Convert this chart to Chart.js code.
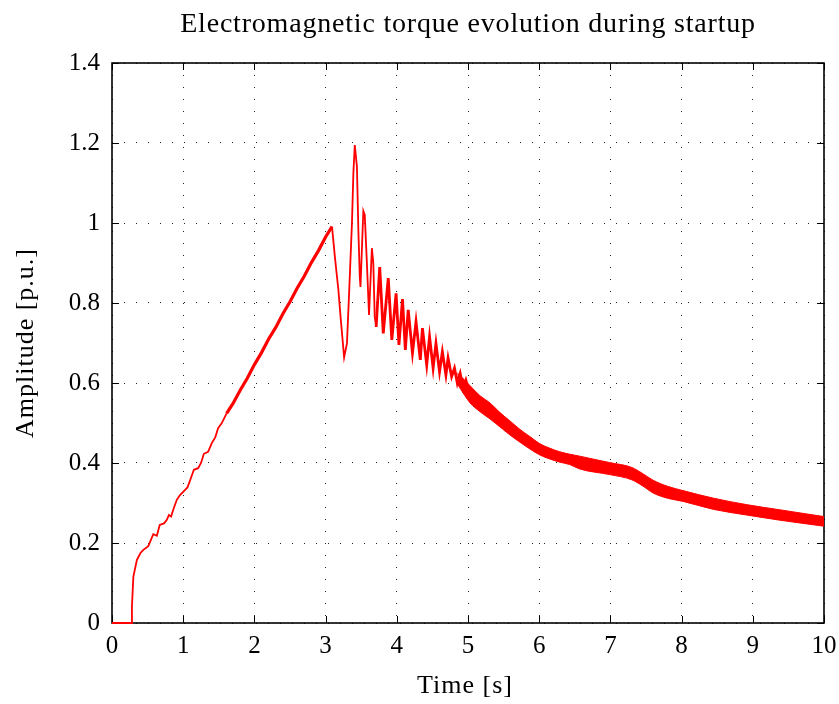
<!DOCTYPE html>
<html>
<head>
<meta charset="utf-8">
<script src="https://cdn.jsdelivr.net/npm/chart.js@4"></script>
<style>
  html, body { margin: 0; padding: 0; background: #fff; }
  #wrap { width: 839px; height: 704px; }
</style>
</head>
<body>
<div id="wrap"><canvas id="chart"></canvas></div>
<script>
// ---------- Data ----------
// thin trace: startup, ramp and the big swings
const tMain = [0, 0.27, 0.28, 0.30, 0.35, 0.40, 0.44, 0.51, 0.58, 0.63, 0.67, 0.73, 0.77, 0.80, 0.83, 0.86,
  0.91, 0.955, 1.00, 1.06, 1.10, 1.15, 1.21, 1.25, 1.29, 1.35, 1.40, 1.45, 1.49, 1.54, 1.61,
  1.70, 1.80, 1.90, 2.00, 2.10, 2.20, 2.30, 2.40, 2.50, 2.60, 2.70, 2.80, 2.90, 3.00, 3.09,
  3.13, 3.18, 3.21, 3.26, 3.30, 3.33, 3.37, 3.39, 3.41, 3.44, 3.46, 3.48, 3.49, 3.53, 3.55,
  3.58, 3.61, 3.65, 3.67, 3.69, 3.71, 3.76, 3.81, 3.88, 3.93, 3.99, 4.03, 4.08, 4.12, 4.16,
  4.22, 4.27, 4.33, 4.36, 4.42, 4.46, 4.51, 4.55, 4.60, 4.64, 4.69, 4.72, 4.77, 4.81, 4.85,
  4.89, 4.93, 4.97, 5.02];
const yMain = [0, 0, 0.04, 0.116, 0.158, 0.175, 0.183, 0.192, 0.222, 0.218, 0.245, 0.249, 0.258, 0.270, 0.266, 0.283,
  0.308, 0.320, 0.328, 0.339, 0.358, 0.383, 0.387, 0.400, 0.423, 0.428, 0.449, 0.464, 0.487, 0.499, 0.524,
  0.549, 0.582, 0.612, 0.646, 0.676, 0.710, 0.739, 0.773, 0.803, 0.837, 0.867, 0.901, 0.931, 0.965, 0.991,
  0.916, 0.832, 0.766, 0.664, 0.699, 0.824, 0.999, 1.124, 1.195, 1.141, 0.983, 0.866, 0.840, 1.030, 1.020,
  0.900, 0.770, 0.937, 0.900, 0.766, 0.740, 0.890, 0.724, 0.862, 0.708, 0.824, 0.695, 0.810, 0.683, 0.783,
  0.675, 0.753, 0.658, 0.737, 0.645, 0.716, 0.637, 0.699, 0.628, 0.678, 0.620, 0.662, 0.616, 0.637, 0.600,
  0.624, 0.587, 0.607, 0.574];

// thick part (fast ripple): upper and lower edge of the band
const tBand = [4.85, 4.95, 5.03, 5.17, 5.31, 5.45, 5.59, 5.73, 5.87, 6.01, 6.15, 6.29, 6.43, 6.57, 6.99,
  7.30, 7.45, 7.60, 7.80, 8.02, 8.45, 8.91, 9.38, 10.0];
const bandUpper = [0.625, 0.608, 0.593, 0.568, 0.550, 0.526, 0.505, 0.484, 0.466, 0.448, 0.437, 0.428, 0.422, 0.417, 0.401,
  0.389, 0.374, 0.357, 0.342, 0.331, 0.312, 0.296, 0.283, 0.266];
const bandLower = [0.598, 0.570, 0.550, 0.528, 0.510, 0.490, 0.470, 0.452, 0.435, 0.420, 0.410, 0.402, 0.396, 0.385, 0.371,
  0.358, 0.343, 0.325, 0.312, 0.304, 0.284, 0.270, 0.257, 0.242];

const xTicks = [0, 1, 2, 3, 4, 5, 6, 7, 8, 9, 10];
const yTicks = [0, 0.2, 0.4, 0.6, 0.8, 1, 1.2, 1.4];

const titleText = 'Electromagnetic torque evolution during startup';
const xLabel = 'Time [s]';
const yLabel = 'Amplitude [p.u.]';

const serif = '"Liberation Serif", "DejaVu Serif", serif';
const red = '#ff0000';

const pts = (xs, ys) => xs.map((x, i) => ({ x: x, y: ys[i] }));

// box round the axes, with ticks pointing inward (matlab style)
const frame = {
  id: 'frame',
  beforeDatasetsDraw(chart) {
    const { ctx, chartArea: a, scales: { x, y } } = chart;
    ctx.save();
    ctx.strokeStyle = '#000';
    ctx.lineWidth = 1;
    ctx.beginPath();
    xTicks.forEach(v => {
      const px = Math.round(x.getPixelForValue(v)) + 0.5;
      ctx.moveTo(px, a.bottom); ctx.lineTo(px, a.bottom - 7);
      ctx.moveTo(px, a.top); ctx.lineTo(px, a.top + 7);
    });
    yTicks.forEach(v => {
      const py = Math.round(y.getPixelForValue(v)) + 0.5;
      ctx.moveTo(a.left, py); ctx.lineTo(a.left + 7, py);
      ctx.moveTo(a.right, py); ctx.lineTo(a.right - 7, py);
    });
    ctx.stroke();
    ctx.lineWidth = 1.6;
    ctx.strokeRect(a.left, a.top, a.right - a.left, a.bottom - a.top);
    ctx.restore();
  }
};

// title and axis labels, spaced a bit wider like the latex font
const labels = {
  id: 'labels',
  afterDraw(chart) {
    const { ctx, chartArea: a } = chart;
    const cx = (a.left + a.right) / 2;
    const cy = (a.top + a.bottom) / 2;
    ctx.save();
    ctx.fillStyle = '#000';
    ctx.textAlign = 'center';
    ctx.textBaseline = 'alphabetic';
    ctx.letterSpacing = '0.8px';
    ctx.font = '28px ' + serif;
    ctx.fillText(titleText, cx, 32);
    ctx.letterSpacing = '1px';
    ctx.font = '26px ' + serif;
    ctx.fillText(xLabel, cx - 3, 693);
    ctx.translate(33, cy);
    ctx.rotate(-Math.PI / 2);
    ctx.fillText(yLabel, 0, 0);
    ctx.restore();
  }
};

const thick = c => {
  const t = c.p0.parsed.x;
  if (t >= 1.6 && t < 3.09) return 3.2;
  if (t >= 3.7) return 2.8;
  return 1.8;
};

const ctx = document.getElementById('chart').getContext('2d');

new Chart(ctx, {
  type: 'line',
  data: {
    datasets: [
      {
        label: 'Torque',
        data: pts(tMain, yMain),
        borderColor: red,
        borderWidth: 1.8,
        pointRadius: 0,
        tension: 0,
        clip: false,
        segment: { borderWidth: thick }
      },
      {
        label: 'ripple upper',
        data: pts(tBand, bandUpper),
        borderColor: red,
        backgroundColor: red,
        borderWidth: 1,
        pointRadius: 0,
        cubicInterpolationMode: 'monotone',
        fill: '+1'
      },
      {
        label: 'ripple lower',
        data: pts(tBand, bandLower),
        borderColor: red,
        borderWidth: 1,
        pointRadius: 0,
        cubicInterpolationMode: 'monotone',
        fill: false
      }
    ]
  },
  options: {
    responsive: true,
    maintainAspectRatio: false,
    animation: false,
    layout: { padding: { left: 0, right: 15, top: 63, bottom: 0 } },
    plugins: {
      legend: { display: false },
      tooltip: { enabled: false },
      title: { display: false }
    },
    scales: {
      x: {
        type: 'linear',
        min: 0,
        max: 10,
        afterFit: s => { s.height = 81; s.paddingLeft = 0; s.paddingRight = 0; },
        afterBuildTicks: s => { s.ticks = xTicks.map(v => ({ value: v })); },
        ticks: { color: '#000', font: { family: serif, size: 25 }, padding: 8, maxRotation: 0 },
        grid: { color: '#222', borderDash: [1, 11], drawTicks: false, lineWidth: 1 },
        border: { display: false, dash: [1, 11] }
      },
      y: {
        min: 0,
        max: 1.4,
        afterFit: s => { s.width = 112; s.paddingTop = 0; s.paddingBottom = 0; },
        afterBuildTicks: s => { s.ticks = yTicks.map(v => ({ value: v })); },
        ticks: {
          color: '#000',
          font: { family: serif, size: 25 },
          padding: 12,
          callback: v => String(Math.round(v * 10) / 10)
        },
        grid: { color: '#222', borderDash: [1, 11], drawTicks: false, lineWidth: 1 },
        border: { display: false, dash: [1, 11] }
      }
    }
  },
  plugins: [frame, labels]
});
</script>
</body>
</html>
